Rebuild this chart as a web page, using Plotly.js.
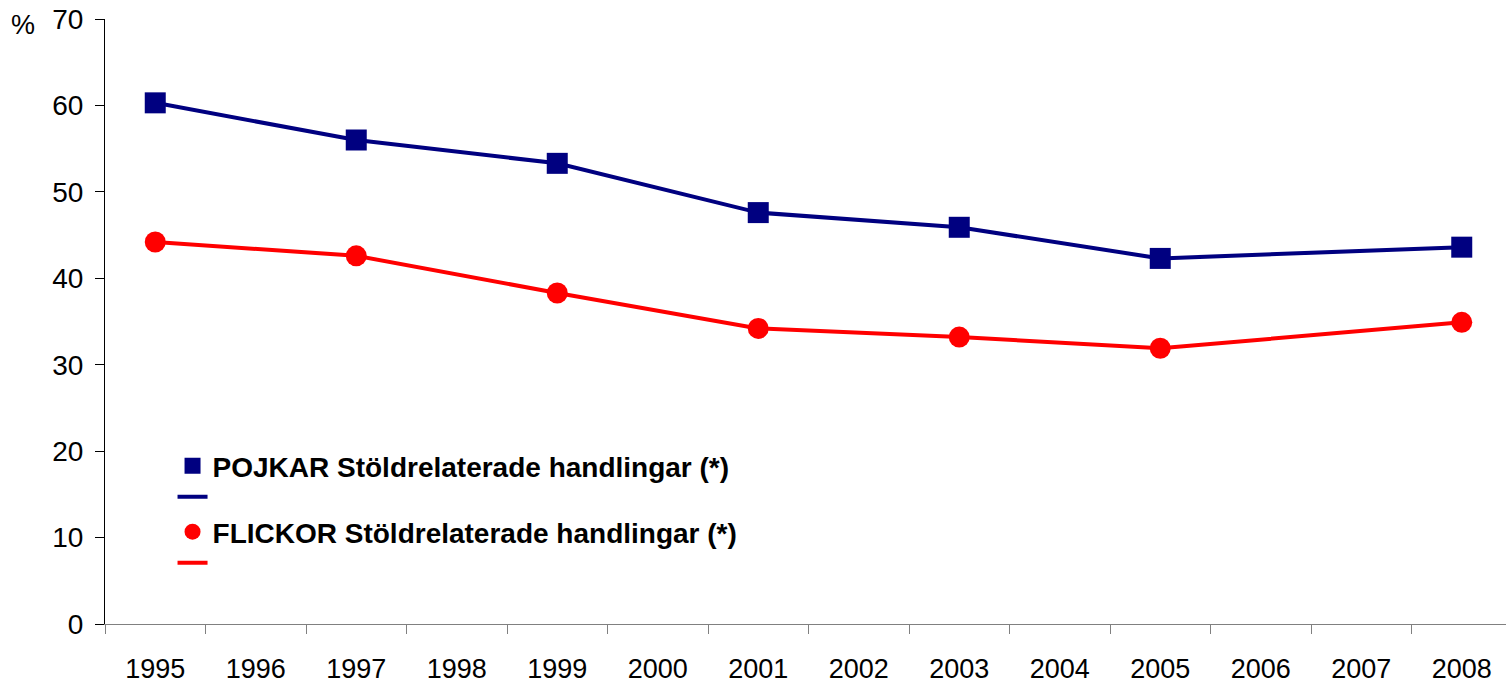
<!DOCTYPE html>
<html>
<head>
<meta charset="utf-8">
<script src="https://cdn.plot.ly/plotly-3.0.1.min.js"></script>
<style>
  html, body { margin: 0; padding: 0; overflow: hidden; background: #fff; }
  #chart { width: 1530px; height: 683px; }
</style>
</head>
<body>
<div id="chart"></div>
<script>
const years = ['1995','1996','1997','1998','1999','2000','2001','2002','2003','2004','2005','2006','2007','2008'];
const surveyYears = ['1995','1997','1999','2001','2003','2005','2008'];
const boysTheft = [60.3, 56.0, 53.3, 47.6, 45.9, 42.3, 43.6];
const girlsTheft = [44.2, 42.6, 38.3, 34.2, 33.2, 31.9, 34.9];
const boysName = 'POJKAR Stöldrelaterade handlingar (*)';
const girlsName = 'FLICKOR Stöldrelaterade handlingar (*)';

const blue = '#000080';
const red = '#FF0000';
const font = 'Arial, "Liberation Sans", sans-serif';

const traces = [
  {
    x: surveyYears, y: boysTheft, type: 'scatter', mode: 'lines+markers',
    line: {color: blue, width: 4},
    marker: {symbol: 'square', size: 21, color: blue},
    showlegend: false, hoverinfo: 'x+y'
  },
  {
    x: surveyYears, y: girlsTheft, type: 'scatter', mode: 'lines+markers',
    line: {color: red, width: 4},
    marker: {symbol: 'circle', size: 21, color: red},
    showlegend: false, hoverinfo: 'x+y'
  },
  // legend entries (marker row, then line row), Excel-style
  { x: [null], y: [null], type: 'scatter', mode: 'markers', name: boysName, legend: 'legend',
    marker: {symbol: 'square', size: 19, color: blue}, hoverinfo: 'skip' },
  { x: [null], y: [null], type: 'scatter', mode: 'lines', name: ' ', legend: 'legend2',
    line: {color: blue, width: 4}, hoverinfo: 'skip' },
  { x: [null], y: [null], type: 'scatter', mode: 'markers', name: girlsName, legend: 'legend3',
    marker: {symbol: 'circle', size: 19, color: red}, hoverinfo: 'skip' },
  { x: [null], y: [null], type: 'scatter', mode: 'lines', name: ' ', legend: 'legend4',
    line: {color: red, width: 4}, hoverinfo: 'skip' }
];

function leg(y) {
  return {
    x: 0.048, y: y, xanchor: 'left', yanchor: 'middle',
    bgcolor: 'rgba(0,0,0,0)', borderwidth: 0,
    font: {family: font, size: 28, color: '#000', weight: 'bold'},
    traceorder: 'normal', tracegroupgap: 0
  };
}

const layout = {
  width: 1530, height: 683,
  margin: {l: 105, r: 18, t: 19, b: 59, pad: 0},
  paper_bgcolor: '#fff', plot_bgcolor: '#fff',
  font: {family: font, size: 28, color: '#000'},
  showlegend: true,
  legend: leg(0.2612),
  legend2: leg(0.2099),
  legend3: leg(0.1521),
  legend4: leg(0.1008),
  xaxis: {
    type: 'category', categoryorder: 'array', categoryarray: years,
    range: [-0.5, 13.5], tickson: 'boundaries',
    showline: true, linecolor: '#808080', linewidth: 1,
    ticks: 'outside', ticklen: 9, tickcolor: '#808080', tickwidth: 1,
    showgrid: false, zeroline: false, fixedrange: true,
    ticklabelstandoff: 21,
    tickfont: {family: font, size: 27, color: '#000'}
  },
  yaxis: {
    range: [0, 70], dtick: 10, tick0: 0,
    showline: true, linecolor: '#000', linewidth: 1,
    ticks: 'outside', ticklen: 9, tickcolor: '#000', tickwidth: 1,
    showgrid: false, zeroline: false, fixedrange: true,
    ticklabelstandoff: 6,
    tickfont: {family: font, size: 28, color: '#000'}
  },
  annotations: [{
    text: '%', xref: 'paper', yref: 'paper', x: -0.058, y: 0.99,
    xanchor: 'center', yanchor: 'middle', showarrow: false,
    font: {family: font, size: 27, color: '#000'}
  }]
};

Plotly.newPlot('chart', traces, layout, {displayModeBar: false, staticPlot: true});
</script>
</body>
</html>
